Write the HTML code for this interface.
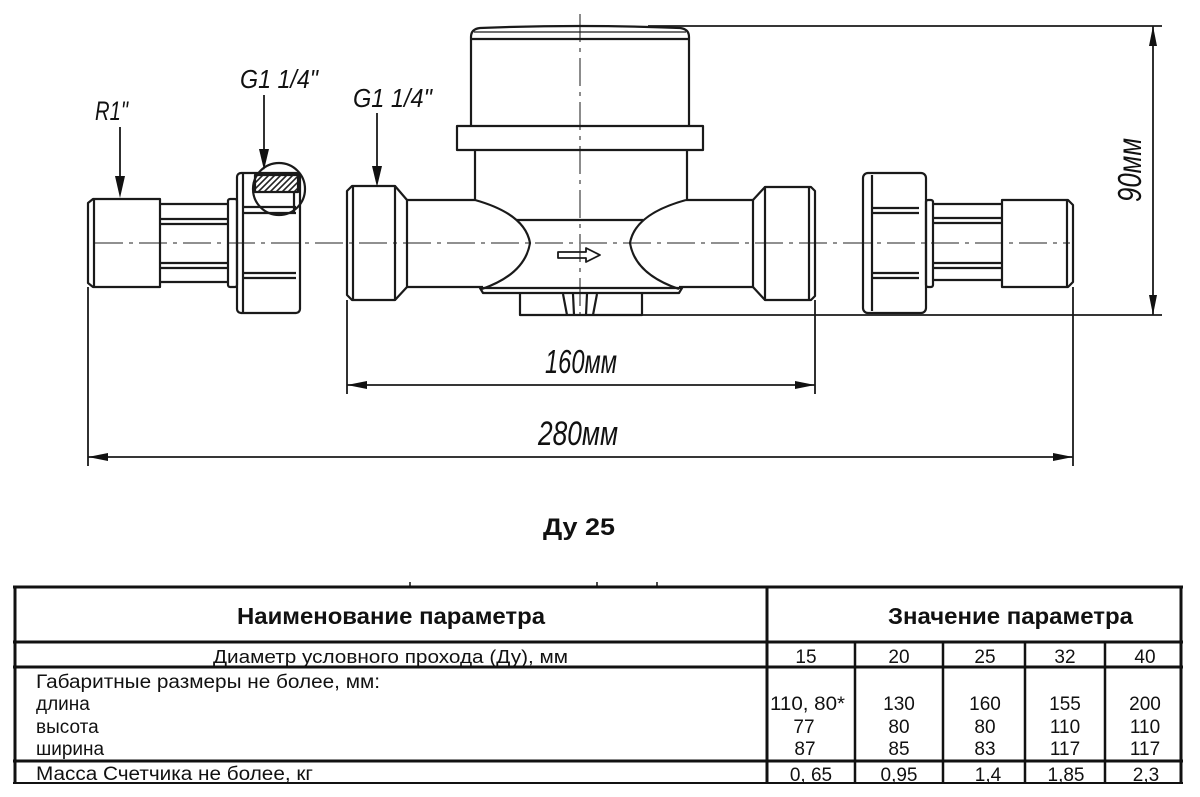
<!DOCTYPE html>
<html><head><meta charset="utf-8"><style>
html,body{margin:0;padding:0;background:#fff;}
svg{display:block}
</style></head><body>
<svg width="1200" height="797" viewBox="0 0 1200 797" xmlns="http://www.w3.org/2000/svg">
<defs>
<pattern id="h" patternUnits="userSpaceOnUse" width="6" height="6"><path d="M0,6 L6,0 M-1,1 L1,-1 M5,7 L7,5" stroke="#222" stroke-width="1.6"/></pattern>
</defs>
<rect width="1200" height="797" fill="#fff"/>

<!-- centerlines -->
<g stroke="#808080" stroke-width="1.8" fill="none" stroke-dasharray="28,6,4,6">
<line x1="95" y1="243" x2="1070" y2="243"/>
<line x1="580" y1="14" x2="580" y2="322"/>
</g>

<g stroke="#1a1a1a" stroke-width="2.2" fill="none" stroke-linejoin="round">
 <!-- left nipple R1 -->
 <path d="M93 199 L160 199 L160 287 L93 287 L88 283 L88 203 Z"/>
 <line x1="94" y1="199" x2="94" y2="287"/>
 <!-- left pipe -->
 <line x1="160" y1="204" x2="228" y2="204"/>
 <line x1="160" y1="282" x2="228" y2="282"/>
 <line x1="160" y1="219" x2="228" y2="219"/>
 <line x1="160" y1="224" x2="228" y2="224"/>
 <line x1="160" y1="263" x2="228" y2="263"/>
 <line x1="160" y1="268" x2="228" y2="268"/>
 <rect x="228" y="199" width="9" height="88" rx="2"/>
 <!-- left union nut -->
 <rect x="237" y="173" width="63" height="140" rx="4"/>
 <line x1="243" y1="173" x2="243" y2="313"/>
 <line x1="243" y1="207" x2="296" y2="207"/>
 <line x1="243" y1="213" x2="296" y2="213"/>
 <line x1="243" y1="273" x2="296" y2="273"/>
 <line x1="243" y1="278" x2="296" y2="278"/>
 <line x1="294" y1="192" x2="294" y2="213"/>
 <rect x="255" y="175" width="43" height="17" fill="url(#h)"/>
 <circle cx="279" cy="189" r="26"/>

 <!-- meter left nut -->
 <path d="M352 186 L395 186 L395 300 L352 300 L347 295 L347 191 Z"/>
 <line x1="353" y1="186" x2="353" y2="300"/>
 <path d="M395 186 L407 200 L407 287 L395 300"/>
 <!-- body pipes -->
 <line x1="407" y1="200" x2="475" y2="200"/>
 <line x1="407" y1="287" x2="483" y2="287"/>
 <line x1="475" y1="150" x2="475" y2="200"/>
 <line x1="687" y1="150" x2="687" y2="200"/>
 <path d="M475 200 Q525 214 530 243 Q525 274 482 289"/>
 <path d="M686 200 Q635 214 630 243 Q635 274 679 289"/>
 <line x1="517" y1="220" x2="643" y2="220"/>
 <path d="M480 288 L483 293 L679 293 L682 288 Z"/>
 <!-- foot -->
 <path d="M520 293 L520 315 L642 315 L642 293"/>
 <path d="M563 294 L567 315 M597 294 L593 315 M573 294 L574 315 M587 294 L586 315"/>
 <!-- ring and cap -->
 <rect x="457" y="126" width="246" height="24"/>
 <path d="M471 126 L471 37 Q471 29 480 28 Q580 24 680 28 Q689 29 689 37 L689 126"/>
 <line x1="471" y1="39" x2="689" y2="39"/>
 <line x1="474" y1="32" x2="686" y2="32" stroke-width="1.2"/>
 <!-- flow arrow -->
 <path d="M558 252 L586 252 L586 248 L600 255 L586 262 L586 258 L558 258 Z" stroke-width="1.8"/>
 <!-- right pipe -->
 <line x1="686" y1="200" x2="753" y2="200"/>
 <line x1="679" y1="287" x2="753" y2="287"/>
 <line x1="753" y1="200" x2="753" y2="287"/>
 <path d="M753 200 L765 187 M753 287 L765 300"/>
 <path d="M765 187 L811 187 L815 191 L815 296 L811 300 L765 300 Z"/>
 <line x1="809" y1="187" x2="809" y2="300"/>

 <!-- right union nut -->
 <rect x="863" y="173" width="63" height="140" rx="5"/>
 <line x1="872" y1="175" x2="872" y2="311"/>
 <line x1="872" y1="208" x2="919" y2="208"/>
 <line x1="872" y1="213" x2="919" y2="213"/>
 <line x1="872" y1="273" x2="919" y2="273"/>
 <line x1="872" y1="278" x2="919" y2="278"/>
 <rect x="926" y="200" width="7" height="87" rx="2"/>
 <line x1="933" y1="204" x2="1002" y2="204"/>
 <line x1="933" y1="280" x2="1002" y2="280"/>
 <line x1="933" y1="218" x2="1002" y2="218"/>
 <line x1="933" y1="223" x2="1002" y2="223"/>
 <line x1="933" y1="263" x2="1002" y2="263"/>
 <line x1="933" y1="268" x2="1002" y2="268"/>
 <path d="M1002 200 L1068 200 L1073 205 L1073 282 L1068 287 L1002 287 Z"/>
 <line x1="1067" y1="200" x2="1067" y2="287"/>
</g>

<!-- extension & dimension lines -->
<g stroke="#1a1a1a" stroke-width="1.8" fill="none">
 <line x1="88" y1="287" x2="88" y2="466"/>
 <line x1="1073" y1="287" x2="1073" y2="466"/>
 <line x1="347" y1="300" x2="347" y2="394"/>
 <line x1="815" y1="300" x2="815" y2="394"/>
 <line x1="648" y1="26" x2="1162" y2="26"/>
 <line x1="642" y1="315" x2="1162" y2="315"/>
 <line x1="347" y1="385" x2="815" y2="385"/>
 <line x1="88" y1="457" x2="1073" y2="457"/>
 <line x1="1153" y1="26" x2="1153" y2="315"/>
 <line x1="120" y1="127" x2="120" y2="180"/>
 <line x1="264" y1="95" x2="264" y2="152"/>
 <line x1="377" y1="113" x2="377" y2="168"/>
</g>
<g fill="#111">
 <polygon points="347,385 367,381 367,389"/>
 <polygon points="815,385 795,381 795,389"/>
 <polygon points="88,457 108,453 108,461"/>
 <polygon points="1073,457 1053,453 1053,461"/>
 <polygon points="1153,26 1149,46 1157,46"/>
 <polygon points="1153,315 1149,295 1157,295"/>
 <polygon points="120,198 115,176 125,176"/>
 <polygon points="264,170 259,149 269,149"/>
 <polygon points="377,187 372,166 382,166"/>
</g>

<!-- drawing labels -->
<g font-family="'Liberation Sans', sans-serif" font-style="italic" fill="#111">
 <text x="95" y="120" font-size="27" textLength="33" lengthAdjust="spacingAndGlyphs">R1"</text>
 <text x="240" y="88" font-size="26" textLength="78" lengthAdjust="spacingAndGlyphs">G1 1/4"</text>
 <text x="353" y="107" font-size="26" textLength="79" lengthAdjust="spacingAndGlyphs">G1 1/4"</text>
 <text x="545" y="373" font-size="33" textLength="72" lengthAdjust="spacingAndGlyphs">160мм</text>
 <text x="538" y="445" font-size="34" textLength="80" lengthAdjust="spacingAndGlyphs">280мм</text>
 <text transform="translate(1141,170) rotate(-90)" x="0" y="0" text-anchor="middle" font-size="33" textLength="64" lengthAdjust="spacingAndGlyphs">90мм</text>
</g>

<text x="543" y="535" font-family="'Liberation Sans', sans-serif" font-weight="bold" font-size="24" textLength="72" lengthAdjust="spacingAndGlyphs" fill="#111">Ду 25</text>

<!-- table -->
<g stroke="#111" fill="none">
 <line x1="13" y1="587" x2="1183" y2="587" stroke-width="3"/>
 <line x1="13" y1="642" x2="1183" y2="642" stroke-width="3"/>
 <line x1="13" y1="667" x2="1183" y2="667" stroke-width="3"/>
 <line x1="13" y1="761" x2="1183" y2="761" stroke-width="3"/>
 <line x1="13" y1="783" x2="1183" y2="783" stroke-width="2"/>
 <line x1="15" y1="586" x2="15" y2="784" stroke-width="3"/>
 <line x1="1181" y1="586" x2="1181" y2="784" stroke-width="3"/>
 <line x1="767" y1="586" x2="767" y2="784" stroke-width="3"/>
 <line x1="855" y1="642" x2="855" y2="784" stroke-width="2.5"/>
 <line x1="943" y1="642" x2="943" y2="784" stroke-width="2.5"/>
 <line x1="1025" y1="642" x2="1025" y2="784" stroke-width="2.5"/>
 <line x1="1105" y1="642" x2="1105" y2="784" stroke-width="2.5"/>
 <line x1="410" y1="582" x2="410" y2="587" stroke-width="1.5"/>
 <line x1="597" y1="582" x2="597" y2="587" stroke-width="1.5"/>
 <line x1="657" y1="582" x2="657" y2="587" stroke-width="1.5"/>
</g>
<g font-family="'Liberation Sans', sans-serif" fill="#111">
 <text x="237" y="624" font-size="23" font-weight="bold" textLength="308" lengthAdjust="spacingAndGlyphs">Наименование параметра</text>
 <text x="888" y="624" font-size="23" font-weight="bold" textLength="245" lengthAdjust="spacingAndGlyphs">Значение параметра</text>
 <text x="213" y="663" font-size="18" textLength="355" lengthAdjust="spacingAndGlyphs">Диаметр условного прохода (Ду), мм</text>
 <text x="36" y="688" font-size="19" textLength="344" lengthAdjust="spacingAndGlyphs">Габаритные размеры не более, мм:</text>
 <text x="36" y="710" font-size="19">длина</text>
 <text x="36" y="733" font-size="19">высота</text>
 <text x="36" y="755" font-size="19">ширина</text>
 <text x="36" y="780" font-size="19" textLength="277" lengthAdjust="spacingAndGlyphs">Масса Счетчика не более, кг</text>
</g>
<g font-family="'Liberation Sans', sans-serif" fill="#111" font-size="19" text-anchor="middle">
 <text x="806" y="663">15</text>
 <text x="899" y="663">20</text>
 <text x="985" y="663">25</text>
 <text x="1065" y="663">32</text>
 <text x="1145" y="663">40</text>

 <text x="770" y="710" text-anchor="start" textLength="75" lengthAdjust="spacingAndGlyphs">110, 80*</text>
 <text x="899" y="710">130</text>
 <text x="985" y="710">160</text>
 <text x="1065" y="710">155</text>
 <text x="1145" y="710">200</text>

 <text x="804" y="733">77</text>
 <text x="899" y="733">80</text>
 <text x="985" y="733">80</text>
 <text x="1065" y="733">110</text>
 <text x="1145" y="733">110</text>

 <text x="805" y="755">87</text>
 <text x="899" y="755">85</text>
 <text x="985" y="755">83</text>
 <text x="1065" y="755">117</text>
 <text x="1145" y="755">117</text>

 <text x="811" y="781">0, 65</text>
 <text x="899" y="781">0,95</text>
 <text x="988" y="781">1,4</text>
 <text x="1066" y="781">1,85</text>
 <text x="1146" y="781">2,3</text>
</g>
</svg>
</body></html>
